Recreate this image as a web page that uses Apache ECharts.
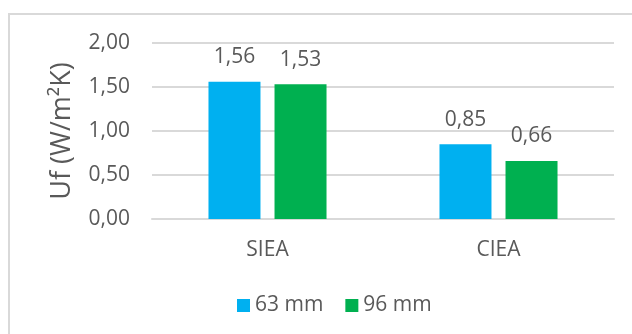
<!DOCTYPE html>
<html>
<head>
<meta charset="utf-8">
<script src="https://cdn.jsdelivr.net/npm/echarts@6/dist/echarts.min.js"></script>
<style>
  html, body { margin: 0; padding: 0; background: #fff; }
  #chart { width: 632px; height: 334px; }
</style>
</head>
<body>
<div id="chart"></div>
<script>
// chart data
const categories = ["SIEA", "CIEA"];
const seriesNames = ["63 mm", "96 mm"];
const values63 = [1.56, 0.85];
const values96 = [1.53, 0.66];
const yTicks = [0, 0.5, 1, 1.5, 2];

const textColor = "#595959";
const font = "'Open Sans', sans-serif";

const chart = echarts.init(document.getElementById("chart"));

const fmt = v => v.toFixed(2).replace(".", ",");

chart.setOption({
    animation: false,
    grid: {
        left: 152,
        right: 18,
        top: 43,
        bottom: 115
    },
    graphic: [
        {
            type: "rect",
            shape: { x: 9, y: 14, width: 700, height: 400 },
            style: { fill: "none", stroke: "#d9d9d9", lineWidth: 2 },
            silent: true
        }
    ],
    legend: {
        bottom: 13,
        left: 232,
        itemWidth: 13,
        itemHeight: 13,
        itemGap: 22,
        icon: "rect",
        textStyle: { color: textColor, fontSize: 21, fontFamily: font },
        data: seriesNames
    },
    xAxis: {
        type: "category",
        data: categories,
        axisLine: { show: true, lineStyle: { color: "#d9d9d9", width: 2 } },
        axisTick: { show: false },
        axisLabel: {
            color: textColor,
            fontSize: 21,
            fontFamily: font,
            margin: 21
        }
    },
    yAxis: {
        type: "value",
        min: yTicks[0],
        max: yTicks[yTicks.length - 1],
        interval: 0.5,
        name: "Uf (W/m²K)",
        nameLocation: "middle",
        nameGap: 76,
        nameTextStyle: { color: textColor, fontSize: 27, fontFamily: font },
        axisLine: { show: false },
        axisTick: { show: false },
        splitLine: { lineStyle: { color: "#d9d9d9", width: 2 } },
        axisLabel: {
            color: textColor,
            fontSize: 21,
            fontFamily: font,
            margin: 22,
            formatter: fmt
        }
    },
    series: [
        {
            name: seriesNames[0],
            type: "bar",
            data: values63,
            barWidth: 52,
            barGap: "27%",
            itemStyle: { color: "#00b0f0" },
            label: {
                show: true,
                position: "top",
                distance: 14,
                color: textColor,
                fontSize: 21,
                fontFamily: font,
                formatter: p => fmt(p.value)
            }
        },
        {
            name: seriesNames[1],
            type: "bar",
            data: values96,
            barWidth: 52,
            barGap: "27%",
            itemStyle: { color: "#00b050" },
            label: {
                show: true,
                position: "top",
                distance: 14,
                color: textColor,
                fontSize: 21,
                fontFamily: font,
                formatter: p => fmt(p.value)
            }
        }
    ]
});
</script>
</body>
</html>
